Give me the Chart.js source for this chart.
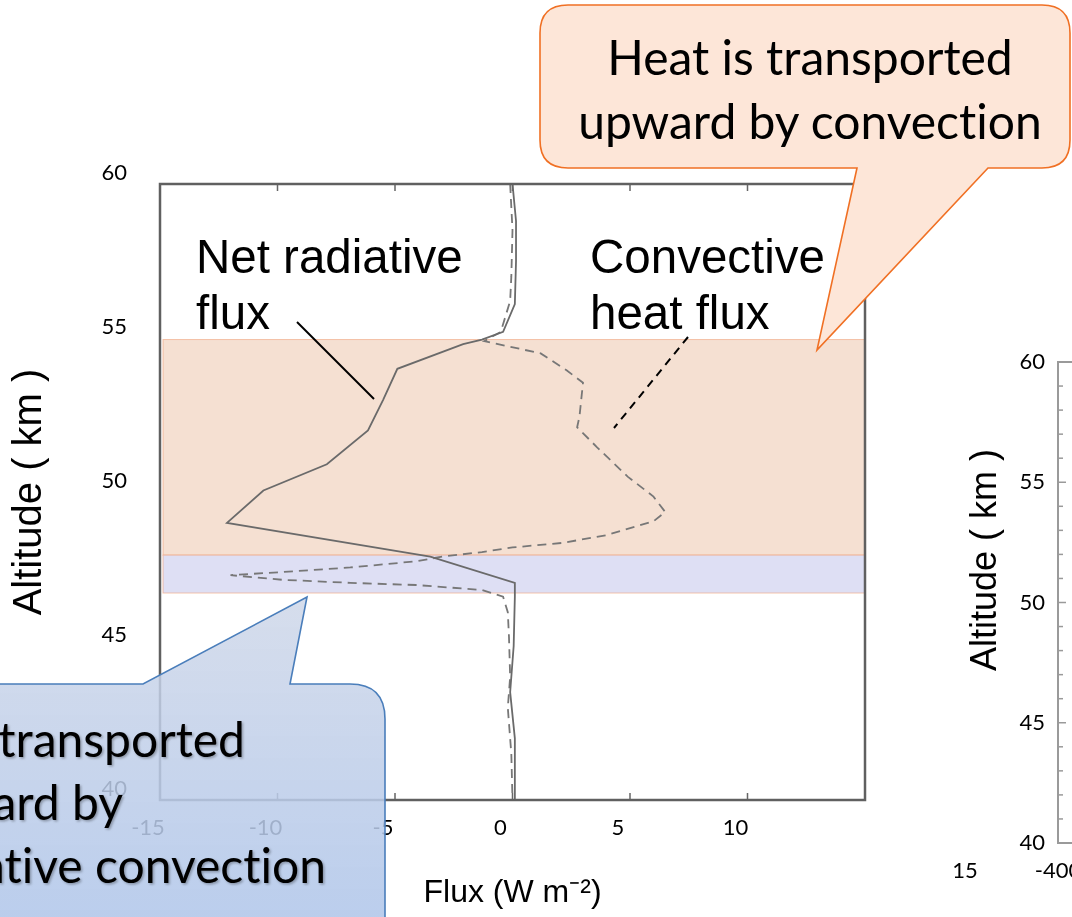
<!DOCTYPE html>
<html>
<head>
<meta charset="utf-8">
<script src="https://cdn.jsdelivr.net/npm/chart.js@4.4.0/dist/chart.umd.min.js"></script>
<style>
  html, body { margin: 0; padding: 0; background: #fff; overflow: hidden; }
  #page { position: relative; width: 1072px; height: 917px; overflow: hidden; }
  #main { position: absolute; left: 0; top: 0; width: 1072px; height: 917px; }
  #side { position: absolute; left: 900px; top: 330px; width: 700px; height: 587px; }
  #notes { position: absolute; left: 0; top: 0; pointer-events: none; }
  #notes text { font-variant-ligatures: none; font-feature-settings: "liga" 0; }
</style>
</head>
<body>
<div id="page">
  <div id="main"><canvas id="fluxChart"></canvas></div>
  <div id="side"><canvas id="sideChart"></canvas></div>

  <svg id="notes" width="1072" height="917" viewBox="0 0 1072 917">
    <defs>
      <linearGradient id="blueFill" x1="0" y1="0" x2="0" y2="1">
        <stop offset="0" stop-color="rgb(205,214,232)" stop-opacity="0.82"/>
        <stop offset="1" stop-color="rgb(176,198,234)" stop-opacity="0.88"/>
      </linearGradient>
      <filter id="soft" x="-5%" y="-20%" width="110%" height="140%">
        <feDropShadow dx="1.5" dy="1.5" stdDeviation="1" flood-color="#000" flood-opacity="0.3"/>
      </filter>
    </defs>

    <!-- labels inside the plot -->
    <g font-family="'Liberation Sans', Arial, sans-serif" font-size="47.5" fill="#000">
      <text x="196" y="273">Net radiative</text>
      <text x="196" y="329">flux</text>
      <text x="590" y="273">Convective</text>
      <text x="590" y="329">heat flux</text>
    </g>
    <line x1="297" y1="322" x2="374" y2="399" stroke="#000" stroke-width="2"/>
    <line x1="688" y1="337" x2="614" y2="428" stroke="#000" stroke-width="2" stroke-dasharray="8 6"/>

    <!-- orange callout -->
    <path d="M568,5 L1042,5 Q1070,5 1070,33 L1070,140 Q1070,168 1042,168 L988,168 L817,350 L857,168 L568,168 Q540,168 540,140 L540,33 Q540,5 568,5 Z"
          fill="#fde6d8" stroke="#f07024" stroke-width="1.6"/>
    <g font-family="Lato, 'Open Sans', sans-serif" font-size="48" fill="#000" text-anchor="middle">
      <text x="810" y="75">Heat is transported</text>
      <text x="810" y="139">upward by convection</text>
    </g>

    <!-- blue callout -->
    <path d="M-10,684 L143,684 L307,597 L290,684 L350,684 Q385,684 385,719 L385,930 L-10,930 Z"
          fill="url(#blueFill)" stroke="#4a7ebb" stroke-width="1.6"/>
    <g font-family="Lato, 'Open Sans', sans-serif" font-size="48" fill="#000" text-anchor="end" filter="url(#soft)">
      <text x="245" y="757">Heat is transported</text>
      <text x="123" y="820">downward by</text>
      <text x="326" y="883">penetrative convection</text>
    </g>

    <text x="965" y="878" font-family="Lato, 'Open Sans', sans-serif" font-size="22" fill="#000" text-anchor="middle">15</text>
    <text transform="translate(996,560) rotate(-90)" font-family="'Liberation Sans', Arial, sans-serif" font-size="36" fill="#000" text-anchor="middle">Altitude ( km )</text>
  </svg>
</div>

<script>
// net radiative flux (solid)
const netAltitude = [60, 58.8, 57.5, 56.1, 55.2, 54.95, 54.8, 54.0, 53.0, 52.0, 50.9, 50.05, 49.0, 47.9, 47.05, 46.6, 45.0, 43.5, 42.0, 40];
const netFlux = [0.0, 0.15, 0.15, 0.1, -0.4, -1.3, -2.1, -4.9, -5.5, -6.15, -7.9, -10.6, -12.15, -3.5, 0.1, 0.1, 0.05, -0.1, 0.1, 0.1];

// convective heat flux (dashed)
const convAltitude = [60, 58.5, 57.0, 56.2, 55.2, 54.9, 54.5, 53.95, 53.55, 52.45, 52.1, 51.45, 50.5, 49.85, 49.35, 49.05, 48.6, 48.35, 48.2, 48.05, 47.9, 47.75, 47.55, 47.4, 47.3, 47.15, 47.05, 46.98, 46.82, 46.6, 46.1, 45.3, 44.0, 43.0, 41.5, 40];
const convFlux = [-0.1, 0.0, -0.05, -0.1, -0.5, -1.2, 1.2, 2.3, 3.0, 2.85, 2.75, 3.6, 4.9, 6.0, 6.5, 6.0, 4.0, 2.15, 0.0, -1.3, -3.0, -4.1, -6.9, -9.8, -12.0, -9.8, -6.9, -4.1, -1.3, -0.4, -0.2, -0.15, -0.1, -0.2, -0.05, 0.0];

// shaded layers (altitude km)
const convectionLayer = [47.95, 54.95];
const penetrativeLayer = [46.72, 47.95];

const altitudeTicks = [40, 45, 50, 55, 60];
const fluxTicks = [-15, -10, -5, 0, 5, 10];

const toPoints = (xs, ys) => xs.map((x, i) => ({ x: x, y: ys[i] }));

const layers = {
  id: 'layers',
  beforeDatasetsDraw(chart) {
    const { ctx, chartArea } = chart;
    const y = chart.scales.y;
    const drawBand = (band, fill) => {
      const top = y.getPixelForValue(band[1]);
      const bottom = y.getPixelForValue(band[0]);
      ctx.save();
      ctx.fillStyle = fill;
      ctx.fillRect(chartArea.left + 3, top, chartArea.width - 3, bottom - top);
      ctx.strokeStyle = 'rgba(240,160,120,0.6)';
      ctx.lineWidth = 1;
      ctx.strokeRect(chartArea.left + 3, top, chartArea.width - 3, bottom - top);
      ctx.restore();
    };
    drawBand(convectionLayer, '#f5e0d2');
    drawBand(penetrativeLayer, '#dedff4');
  },
  afterDatasetsDraw(chart) {
    const { ctx, chartArea } = chart;
    const x = chart.scales.x;
    ctx.save();
    ctx.strokeStyle = '#666';
    ctx.lineWidth = 1.5;
    // small inward ticks of the original frame
    fluxTicks.slice(1).forEach(v => {
      const px = x.getPixelForValue(v);
      ctx.beginPath();
      ctx.moveTo(px, chartArea.top);
      ctx.lineTo(px, chartArea.top + 7);
      ctx.moveTo(px, chartArea.bottom);
      ctx.lineTo(px, chartArea.bottom - 7);
      ctx.stroke();
    });
    ctx.strokeStyle = '#606060';
    ctx.lineWidth = 2.5;
    ctx.strokeRect(chartArea.left, chartArea.top, chartArea.width, chartArea.height);
    ctx.restore();
  }
};

new Chart(document.getElementById('fluxChart'), {
  type: 'scatter',
  data: {
    datasets: [{
      label: 'Net radiative flux',
      data: toPoints(netFlux, netAltitude),
      showLine: true,
      borderColor: '#6a6a6a',
      borderWidth: 1.8,
      pointRadius: 0
    }, {
      label: 'Convective heat flux',
      data: toPoints(convFlux, convAltitude),
      showLine: true,
      borderColor: '#777',
      borderWidth: 1.8,
      borderDash: [9, 6],
      pointRadius: 0
    }]
  },
  options: {
    responsive: true,
    maintainAspectRatio: false,
    animation: false,
    layout: { padding: { top: 184, right: 207, bottom: 0, left: 0 } },
    plugins: { legend: { display: false }, tooltip: { enabled: false } },
    scales: {
      x: {
        type: 'linear',
        min: -15,
        max: 15,
        afterBuildTicks: s => { s.ticks = fluxTicks.map(v => ({ value: v })); },
        afterFit: s => { s.height = 117; },
        grid: { display: false, drawTicks: false },
        border: { display: false },
        ticks: { color: '#000', padding: 15, labelOffset: -12, font: { family: 'Lato', size: 22 } },
        title: {
          display: true,
          text: 'Flux (W m⁻²)',
          color: '#000',
          padding: 5,
          font: { family: "'Liberation Sans', Arial", size: 32 }
        }
      },
      y: {
        type: 'linear',
        min: 40,
        max: 60,
        afterBuildTicks: s => { s.ticks = altitudeTicks.map(v => ({ value: v })); },
        afterFit: s => { s.width = 160; },
        grid: { display: false, drawTicks: false },
        border: { display: false },
        ticks: { color: '#000', padding: 33, labelOffset: -11, font: { family: 'Lato', size: 22 } },
        title: {
          display: true,
          text: 'Altitude ( km )',
          color: '#000',
          padding: 6,
          font: { family: "'Liberation Sans', Arial", size: 40 }
        }
      }
    }
  },
  plugins: [layers]
});

// second panel, only its left edge is inside the picture
const sideFrame = {
  id: 'sideFrame',
  afterDraw(chart) {
    const { ctx, chartArea } = chart;
    const y = chart.scales.y;
    ctx.save();
    ctx.strokeStyle = '#9a9a9a';
    ctx.lineWidth = 2;
    ctx.strokeRect(chartArea.left, chartArea.top, chartArea.width, chartArea.height);
    ctx.lineWidth = 1.5;
    for (let v = 41; v < 60; v++) {
      const py = y.getPixelForValue(v);
      ctx.beginPath();
      ctx.moveTo(chartArea.left, py);
      ctx.lineTo(chartArea.left + (v % 5 === 0 ? 8 : 5), py);
      ctx.stroke();
    }
    ctx.restore();
  }
};

new Chart(document.getElementById('sideChart'), {
  type: 'scatter',
  data: { datasets: [{ data: [], showLine: true, pointRadius: 0 }] },
  options: {
    responsive: true,
    maintainAspectRatio: false,
    animation: false,
    layout: { padding: { top: 32, right: 0, bottom: 0, left: 0 } },
    plugins: { legend: { display: false }, tooltip: { enabled: false } },
    scales: {
      x: {
        type: 'linear',
        min: -400,
        max: 400,
        afterBuildTicks: s => { s.ticks = [-400, 0, 400].map(v => ({ value: v })); },
        afterFit: s => { s.height = 74; },
        grid: { display: false, drawTicks: false },
        border: { display: false },
        ticks: { color: '#000', padding: 15, font: { family: 'Lato', size: 22 } }
      },
      y: {
        type: 'linear',
        min: 40,
        max: 60,
        afterBuildTicks: s => { s.ticks = altitudeTicks.map(v => ({ value: v })); },
        afterFit: s => { s.width = 158; },
        grid: { display: false, drawTicks: false },
        border: { display: false },
        ticks: { color: '#000', padding: 13, font: { family: 'Lato', size: 22 } }
      }
    }
  },
  plugins: [sideFrame]
});
</script>
</body>
</html>
